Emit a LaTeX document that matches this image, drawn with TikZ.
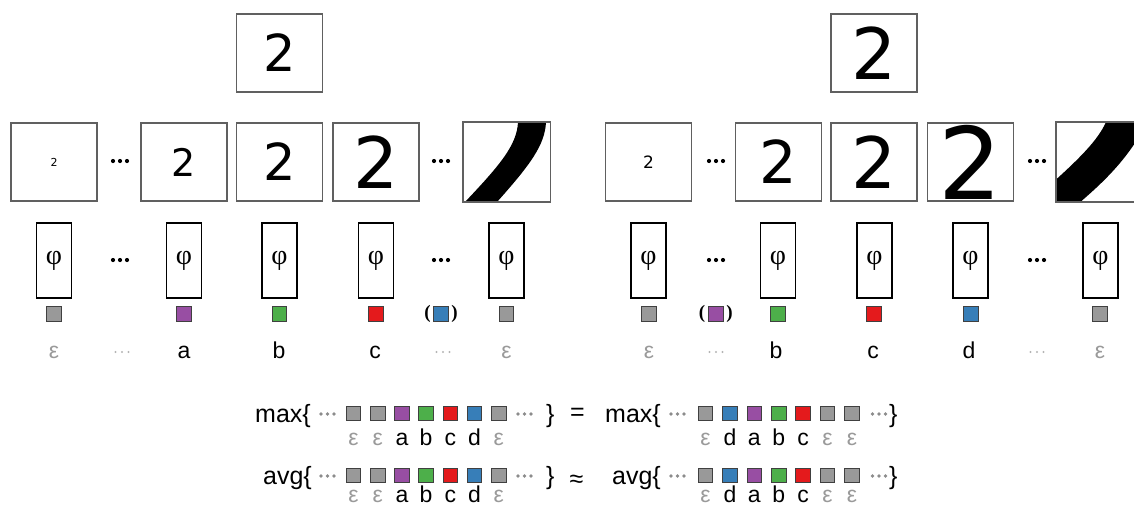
\documentclass[tikz,border=0pt]{standalone}
\usepackage{fontspec}
\setmainfont{Liberation Sans}
\newfontfamily\digitfont{DejaVu Sans}
\newfontfamily\seriffont{Liberation Serif}

\definecolor{cgray}{HTML}{999999}
\definecolor{cpurple}{HTML}{984EA3}
\definecolor{cgreen}{HTML}{4DAF4A}
\definecolor{cred}{HTML}{E41A1C}
\definecolor{cblue}{HTML}{377EB8}
\definecolor{framegray}{HTML}{606060}
\definecolor{sqborder}{HTML}{404040}
\definecolor{epsgray}{HTML}{9A9A9A}
\definecolor{dotgray}{HTML}{8C8C8C}
\definecolor{lightdot}{HTML}{B4B4B4}

\newcommand\dsz[1]{\digitfont\fontsize{#1}{#1}\selectfont}

\tikzset{
  imgbox/.style={draw=framegray, line width=1.8pt, fill=white,
    minimum width=86pt, minimum height=78pt, inner sep=0pt},
  phibox/.style={draw=black, line width=1.6pt, minimum width=35pt,
    minimum height=75pt, inner sep=0pt,
    font=\seriffont\fontsize{28}{28}\selectfont},
  sq/.style={draw=sqborder, line width=0.8pt, minimum size=14.5pt, inner sep=0pt},
  lab/.style={anchor=base, inner sep=0pt, font=\fontsize{23}{23}\selectfont},
  eqtext/.style={inner sep=0pt, font=\fontsize{25}{25}\selectfont},
  paren/.style={inner sep=0pt, font=\seriffont\bfseries\fontsize{19}{19}\selectfont},
  bdots/.pic={\foreach \d in {-7,0,7} \fill[black] (\d,0) circle (2.1pt);},
  gdots/.pic={\foreach \d in {-6.5,0,6.5} \fill[dotgray] (\d,0) circle (1.8pt);},
  ldots/.pic={\foreach \d in {-6.5,0,6.5} \fill[lightdot] (\d,0) circle (1.2pt);},
  band/.style={fill=black}
}

\begin{document}
\begin{tikzpicture}[x=1pt, y=-1pt]
\useasboundingbox (0,0) rectangle (1134,507);
\clip (0,0) rectangle (1134,507);

% ---------------- left panel ----------------
\node[imgbox, font=\dsz{51}] (Ltop) at (279.5,53) {2};

\node[imgbox, font=\dsz{11}] (Lr1) at (54,162) {2};
\node[imgbox, font=\dsz{38}] (Lr2) at (184,162) {2};
\node[imgbox, font=\dsz{51}] (Lr3) at (279.5,162) {2};
\node[imgbox, font=\dsz{71}] (Lr4) at (376,162) {2};
\node[imgbox, draw=none] (Lr5) at (506.5,162) {};
\begin{scope}
  \clip (Lr5.south west) rectangle (Lr5.north east);
  \fill[band] (518,122) .. controls (517,145) and (500,165) .. (465,202)
    -- (497,202) .. controls (530,165) and (545,145) .. (546,122) -- cycle;
\end{scope}
\draw[framegray, line width=1.8pt] (Lr5.south west) rectangle (Lr5.north east);

\pic at (120,161) {bdots};
\pic at (441,161) {bdots};

\node[phibox] (Lp1) at (54,260.5) {φ};
\node[phibox] (Lp2) at (184,260.5) {φ};
\node[phibox] (Lp3) at (279.5,260.5) {φ};
\node[phibox] (Lp4) at (376,260.5) {φ};
\node[phibox] (Lp5) at (506.5,260.5) {φ};
\pic at (120,260) {bdots};
\pic at (441,260) {bdots};

\node[sq, fill=cgray] (Ls1) at (54,314) {};
\node[sq, fill=cpurple] (Ls2) at (184,314) {};
\node[sq, fill=cgreen] (Ls3) at (279.5,314) {};
\node[sq, fill=cred] (Ls4) at (376,314) {};
\node[sq, fill=cblue] (Ls5) at (441,314) {};
\node[paren] (Lpo) at (427.5,314) {(};
\node[paren] (Lpc) at (454.5,314) {)};
\node[sq, fill=cgray] (Ls6) at (506.5,314) {};

\node[lab, text=epsgray] (Ll1) at (54,358) {ε};
\pic at (122,352) {ldots};
\node[lab] (Ll2) at (184,358) {a};
\node[lab] (Ll3) at (279,358) {b};
\node[lab] (Ll4) at (375,358) {c};
\pic at (443,352) {ldots};
\node[lab, text=epsgray] (Ll5) at (506.5,358) {ε};

% ---------------- right panel ----------------
\node[imgbox, font=\dsz{71}] (Rtop) at (874,53) {2};

\node[imgbox, font=\dsz{17}] (Rr1) at (648.5,162) {2};
\node[imgbox, font=\dsz{59}] (Rr2) at (778.5,162) {2};
\node[imgbox, font=\dsz{71}] (Rr3) at (874,162) {2};
\node[imgbox, font=\dsz{100}] (Rr4) at (970.5,162) {2};
\node[imgbox, draw=none] (Rr5) at (1100,162) {};
\begin{scope}
  \clip (Rr5.south west) rectangle (Rr5.north east);
  \fill[band] (1106,122) .. controls (1098,140) and (1080,158) .. (1050,185)
    -- (1050,204) -- (1078,204) .. controls (1100,185) and (1122,165) .. (1140,135)
    -- (1150,120) -- cycle;
\end{scope}
\draw[framegray, line width=1.8pt] (Rr5.south west) rectangle (Rr5.north east);

\pic at (716,161) {bdots};
\pic at (1037,161) {bdots};

\node[phibox] (Rp1) at (648.5,260.5) {φ};
\node[phibox] (Rp2) at (778,260.5) {φ};
\node[phibox] (Rp3) at (874.5,260.5) {φ};
\node[phibox] (Rp4) at (970.5,260.5) {φ};
\node[phibox] (Rp5) at (1100.5,260.5) {φ};
\pic at (716,260) {bdots};
\pic at (1037,260) {bdots};

\node[sq, fill=cgray] (Rs1) at (649,314) {};
\node[sq, fill=cpurple] (Rs2) at (716,314) {};
\node[paren] (Rpo) at (702,314) {(};
\node[paren] (Rpc) at (729.5,314) {)};
\node[sq, fill=cgreen] (Rs3) at (778,314) {};
\node[sq, fill=cred] (Rs4) at (874,314) {};
\node[sq, fill=cblue] (Rs5) at (971,314) {};
\node[sq, fill=cgray] (Rs6) at (1100,314) {};

\node[lab, text=epsgray] (Rl1) at (649,358) {ε};
\pic at (716,352) {ldots};
\node[lab] (Rl2) at (776,358) {b};
\node[lab] (Rl3) at (873,358) {c};
\node[lab] (Rl4) at (969,358) {d};
\pic at (1037,352) {ldots};
\node[lab, text=epsgray] (Rl5) at (1100,358) {ε};

% ---------------- pooled comparison ----------------
\node[eqtext, anchor=base east] (maxL) at (311,422) {max\{};
\node[eqtext, anchor=base east] (avgL) at (312,484) {avg\{};
\node[eqtext, anchor=base west] (maxLc) at (546,422) {\}};
\node[eqtext, anchor=base west] (avgLc) at (546,484) {\}};
\node[eqtext] (eqsign) at (577.5,414) {=};
\node[eqtext] (apsign) at (576.5,481) {≈};
\node[eqtext, anchor=base east] (maxR) at (661,422) {max\{};
\node[eqtext, anchor=base east] (avgR) at (661,484) {avg\{};
\node[eqtext, anchor=base west] (maxRc) at (889,422) {\}};
\node[eqtext, anchor=base west] (avgRc) at (889,484) {\}};

\foreach \yy in {0,62} {
  \pic at (327.5,414+\yy) {gdots};
  \pic at (524.5,414+\yy) {gdots};
  \pic at (677.5,414+\yy) {gdots};
  \pic at (879,414+\yy) {gdots};
}

\foreach \fc/\tc/\t [count=\i] in {cgray/epsgray/ε, cgray/epsgray/ε,
    cpurple/black/a, cgreen/black/b, cred/black/c, cblue/black/d, cgray/epsgray/ε} {
  \pgfmathsetmacro\xx{353.5+24.2*(\i-1)}
  \node[sq, fill=\fc] (mL\i) at (\xx,413.5) {};
  \node[lab, text=\tc] (mLt\i) at (\xx,445) {\t};
  \node[sq, fill=\fc] (aL\i) at (\xx,475.5) {};
  \node[lab, text=\tc] (aLt\i) at (\xx,502) {\t};
}

\foreach \fc/\tc/\t [count=\i] in {cgray/epsgray/ε, cblue/black/d,
    cpurple/black/a, cgreen/black/b, cred/black/c, cgray/epsgray/ε, cgray/epsgray/ε} {
  \pgfmathsetmacro\xx{705.5+24.4*(\i-1)}
  \node[sq, fill=\fc] (mR\i) at (\xx,413.5) {};
  \node[lab, text=\tc] (mRt\i) at (\xx,445) {\t};
  \node[sq, fill=\fc] (aR\i) at (\xx,475.5) {};
  \node[lab, text=\tc] (aRt\i) at (\xx,502) {\t};
}
\end{tikzpicture}
\end{document}
